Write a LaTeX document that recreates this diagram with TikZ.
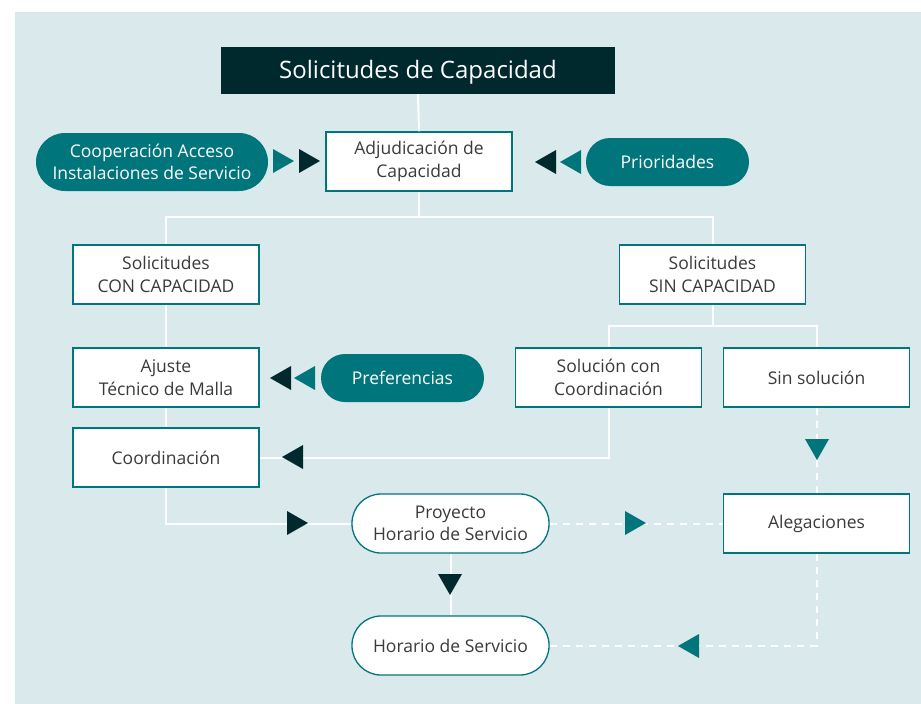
\documentclass[tikz,border=0pt]{standalone}
\usepackage{fontspec}
\setmainfont{Open Sans}
\definecolor{bgblue}{HTML}{D9E9EC}
\definecolor{teal}{HTML}{00767C}
\definecolor{dark}{HTML}{00292E}
\definecolor{txt}{HTML}{3A3A3A}
\newcommand{\triR}[3]{\fill[#1] (#2,#3) -- ++(-21,-12) -- ++(0,24) -- cycle;}
\newcommand{\triL}[3]{\fill[#1] (#2,#3) -- ++(21,-12) -- ++(0,24) -- cycle;}
\newcommand{\triD}[3]{\fill[#1] (#2,#3) -- ++(-12,-21) -- ++(24,0) -- cycle;}
\begin{document}
\begin{tikzpicture}[x=1pt,y=-1pt,
  box/.style={draw=teal,line width=1.3pt,fill=white,text=txt,minimum width=186pt,minimum height=59pt,inner sep=0pt,align=center,font=\fontsize{17.5}{22.5}\selectfont},
  stad/.style={box,rounded corners=29pt,minimum width=197pt},
  pill/.style={fill=teal,text=white,rounded corners=24pt,minimum height=48pt,inner sep=0pt,align=center,font=\fontsize{17.5}{22.5}\selectfont},
  wline/.style={draw=white,line width=2pt},
  dline/.style={wline,dash pattern=on 7pt off 6pt}]
\useasboundingbox (0,0) rectangle (921,704);
\fill[white] (0,0) rectangle (921,704);
\fill[bgblue] (15,12) rectangle (921,704);
% nodes
\node[fill=dark,text=white,minimum width=394pt,minimum height=47pt,inner sep=0pt,text depth=2pt,font=\fontsize{24}{28}\selectfont] (title) at (418,70.5) {Solicitudes de Capacidad};
\node[box] (adj) at (419,161.5) {Adjudicación de\\Capacidad};
\node[pill,minimum width=232pt,minimum height=58pt,rounded corners=29pt] (coop) at (152,162) {Cooperación Acceso\\Instalaciones de Servicio};
\node[pill,minimum width=163pt] (prio) at (667.5,162) {Prioridades};
\node[box] (con) at (166,274.5) {Solicitudes\\CON CAPACIDAD};
\node[box] (sin) at (712.5,274.5) {Solicitudes\\SIN CAPACIDAD};
\node[box] (ajuste) at (166,377.5) {Ajuste\\Técnico de Malla};
\node[pill,minimum width=163pt] (pref) at (402.5,378) {Preferencias};
\node[box] (sol) at (608.5,377.5) {Solución con\\Coordinación};
\node[box] (sinsol) at (816.5,377.5) {Sin solución};
\node[box] (coord) at (166,457.5) {Coordinación};
\node[stad] (proy) at (450.5,523.5) {Proyecto\\Horario de Servicio};
\node[box] (aleg) at (816.5,523.5) {Alegaciones};
\node[stad] (hor) at (450.5,645.5) {Horario de Servicio};
% junctions
\coordinate (j1) at (419,217);
\coordinate (j2) at (712.5,326);
% solid connectors
\draw[wline] (title.south) -- (adj.north);
\draw[wline] (adj.south) -- (j1);
\draw[wline] (j1) -| (con.north);
\draw[wline] (j1) -| (sin.north);
\draw[wline] (con.south) -- (ajuste.north);
\draw[wline] (ajuste.south) -- (coord.north);
\draw[wline] (sin.south) -- (j2);
\draw[wline] (j2) -| (sol.north);
\draw[wline] (j2) -| (sinsol.north);
\draw[wline] (sol.south) |- (coord.east);
\draw[wline] (coord.south) |- (proy.west);
\draw[wline] (proy.south) -- (hor.north);
% dashed connectors
\draw[dline] (proy.east) -- (aleg.west);
\draw[dline] (sinsol.south) -- (aleg.north);
\draw[dline] (aleg.south) |- (hor.east);
% arrowheads
\triL{dark}{282}{457}
\triR{dark}{308}{523}
\triD{dark}{450}{595}
\triR{teal}{646}{523}
\triD{teal}{817}{460}
\triL{teal}{678}{646}
\triR{teal}{294}{161}
\triR{dark}{320}{161}
\triL{dark}{535}{162}
\triL{teal}{560}{162}
\triL{dark}{270}{378}
\triL{teal}{294}{378}
\end{tikzpicture}
\end{document}
